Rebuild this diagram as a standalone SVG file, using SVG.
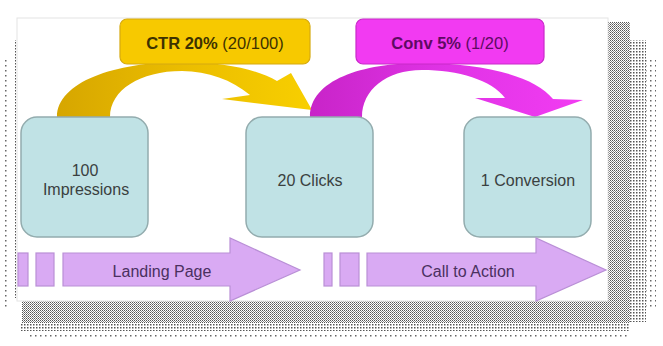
<svg xmlns="http://www.w3.org/2000/svg" width="663" height="346" viewBox="0 0 663 346">
<defs>
<style>
.node{fill:#c0e2e5;stroke:#93acae;stroke-width:1.5}
.ntxt{font-family:"Liberation Sans",Arial,sans-serif;font-size:16px;fill:#3a4040;text-anchor:middle}
.band{fill:#d9aaf3;stroke:#b98fd6;stroke-width:1.2}
.btxt{font-family:"Liberation Sans",Arial,sans-serif;font-size:16px;fill:#4a3060;text-anchor:middle}
.lbl{font-family:"Liberation Sans",Arial,sans-serif;font-size:16.5px;text-anchor:middle}
</style>
<pattern id="dense" width="2" height="2" patternUnits="userSpaceOnUse"><rect width="1" height="1" fill="#555"/><rect x="1" y="1" width="1" height="1" fill="#888"/></pattern>
<pattern id="mid" width="3" height="3" patternUnits="userSpaceOnUse"><rect width="1.5" height="1.5" fill="#555"/></pattern>
<pattern id="sparse" width="5" height="5" patternUnits="userSpaceOnUse"><rect width="1.5" height="1.5" fill="#666"/></pattern>
<linearGradient id="gy" x1="0" x2="1" y1="0" y2="0"><stop offset="0" stop-color="#d6a600"/><stop offset="0.5" stop-color="#ebbd00"/><stop offset="1" stop-color="#f8cf00"/></linearGradient>
<linearGradient id="gm" x1="0" x2="1" y1="0" y2="0"><stop offset="0" stop-color="#c824c8"/><stop offset="0.5" stop-color="#e033e6"/><stop offset="1" stop-color="#f23cf2"/></linearGradient>
</defs>
<rect width="663" height="346" fill="#ffffff"/>
<g id="shadow">
<rect x="60" y="12" width="552" height="2" fill="url(#sparse)"/>
<rect x="14" y="40" width="2" height="258" fill="url(#mid)"/>
<rect x="5" y="60" width="2" height="250" fill="url(#sparse)"/>
<rect x="608" y="22" width="22" height="300" fill="url(#dense)"/>
<rect x="630" y="40" width="16" height="282" fill="url(#mid)"/>
<rect x="646" y="60" width="10" height="250" fill="url(#sparse)"/>
<rect x="22" y="301" width="608" height="22" fill="url(#dense)"/>
<rect x="20" y="323" width="610" height="8" fill="url(#mid)"/>
<rect x="30" y="335" width="600" height="3" fill="url(#sparse)"/>
</g>
<rect x="17" y="18" width="591" height="283" fill="#ffffff" stroke="#e4e4e4" stroke-width="1"/>
<g id="connectors">
<path id="ctr-arrow" d="M57,117 C57,82 115,62 182,62 C225,62 258,70 277,81 L291,73 L312,110 L222,99 L250,95 C232,80 208,71 182,71 C140,71 110,90 110,117 Z" fill="url(#gy)"/>
<path id="conv-arrow" d="M310,117 C310,80 362,63 422,63 C482,63 535,76 553,99 L583,100 L535,117 L475,98 L505,98 C492,80 458,70 422,70 C386,70 362,90 362,117 Z" fill="url(#gm)"/>
</g>
<g id="label-ctr">
<rect x="120" y="19" width="190" height="45" rx="7" fill="#f7c900" stroke="#d6aa10" stroke-width="1.2"/>
<text class="lbl" x="215" y="49" fill="#3d3200"><tspan font-weight="bold">CTR 20%</tspan> (20/100)</text>
</g>
<g id="label-conv">
<rect x="356" y="19" width="188" height="45" rx="7" fill="#f23af2" stroke="#c82ac8" stroke-width="1.2"/>
<text class="lbl" x="450" y="49" fill="#5e0a62"><tspan font-weight="bold">Conv 5%</tspan> (1/20)</text>
</g>
<g id="node-impressions">
<rect class="node" x="21" y="117" width="127" height="120" rx="16"/>
<text class="ntxt" x="85" y="176">100</text>
<text class="ntxt" x="86" y="195">Impressions</text>
</g>
<g id="node-clicks">
<rect class="node" x="246" y="117" width="127" height="120" rx="16"/>
<text class="ntxt" x="310" y="186">20 Clicks</text>
</g>
<g id="node-conversion">
<rect class="node" x="464" y="117" width="127" height="120" rx="16"/>
<text class="ntxt" x="528" y="186">1 Conversion</text>
</g>
<g id="landing-page">
<rect class="band" x="18" y="253" width="10" height="33"/>
<rect class="band" x="36" y="253" width="18" height="33"/>
<path class="band" d="M63,253 L230,253 L230,238 L300,270 L230,301 L230,286 L63,286 Z"/>
<text class="btxt" x="162" y="277">Landing Page</text>
</g>
<g id="call-to-action">
<rect class="band" x="324" y="253" width="8" height="33"/>
<rect class="band" x="340" y="253" width="19" height="33"/>
<path class="band" d="M367,253 L536,253 L536,238 L606,270 L536,301 L536,286 L367,286 Z"/>
<text class="btxt" x="468" y="277">Call to Action</text>
</g>
</svg>
